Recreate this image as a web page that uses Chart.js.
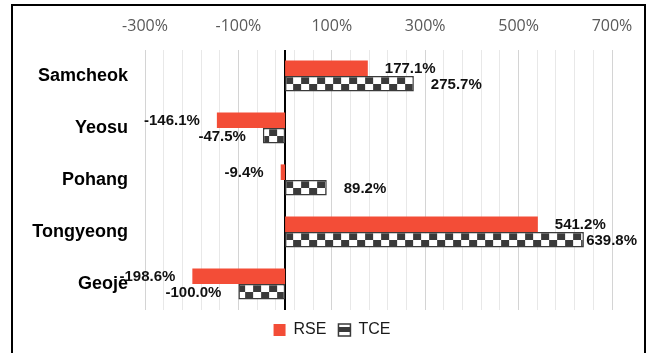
<!DOCTYPE html>
<html>
<head>
<meta charset="utf-8">
<script src="https://cdn.jsdelivr.net/npm/chart.js@4.4.1/dist/chart.umd.min.js"></script>
<style>
  html, body { margin: 0; padding: 0; background: #fff; }
  canvas { display: block; }
</style>
</head>
<body>
<canvas id="c" width="649" height="353"></canvas>
<script>
// ---- data ----
const categories = ['Samcheok', 'Yeosu', 'Pohang', 'Tongyeong', 'Geoje'];
const rseValues = [177.1, -146.1, -9.4, 541.2, -198.6];
const tceValues = [275.7, -47.5, 89.2, 639.8, -100.0];
const seriesNames = ['RSE', 'TCE'];
const axisMin = -300;
const axisMax = 700;
const majorStep = 200;
const minorStep = 40;

// ---- styles ----
const RED = '#F34D37';
const DARK = '#3a3a3a';

// checker tile for TCE bars
const tile = document.createElement('canvas');
tile.width = 16; tile.height = 16;
(function () {
  const g = tile.getContext('2d');
  g.fillStyle = '#ffffff'; g.fillRect(0, 0, 16, 16);
  g.fillStyle = DARK; g.fillRect(0, 0, 8, 8); g.fillRect(8, 8, 8, 8);
})();

function tceFill(ctx) {
  const chart = ctx.chart;
  const xs = chart.scales.x, ys = chart.scales.y;
  if (!xs || !ys || ctx.dataIndex === undefined) return DARK;
  const p = chart.ctx.createPattern(tile, 'repeat');
  p.setTransform(new DOMMatrix([1, 0, 0, 1, xs.getPixelForValue(0), ys.getPixelForValue(ctx.dataIndex)]));
  return p;
}

// data label plugin
const dataLabels = {
  id: 'dataLabels',
  afterDatasetsDraw(chart) {
    const c = chart.ctx;
    c.save();
    c.font = 'bold 15px "Liberation Sans", Arial, sans-serif';
    c.fillStyle = '#111';
    c.textBaseline = 'middle';
    chart.data.datasets.forEach((ds, di) => {
      const meta = chart.getDatasetMeta(di);
      meta.data.forEach((el, i) => {
        const v = ds.data[i];
        const t = v.toFixed(1) + '%';
        const w = c.measureText(t).width;
        let x;
        if (v >= 0) {
          x = Math.min(el.x + 17, 637 - w);
          c.textAlign = 'left';
        } else {
          x = el.x - 17;
          c.textAlign = 'right';
        }
        c.fillText(t, x, el.y + 1);
      });
    });
    c.restore();
  }
};

// frame + legend shift plugin
const frame = {
  id: 'frame',
  afterLayout(chart) {
    if (chart.legend) { chart.legend.left += 26; chart.legend.right += 26; }
  },
  beforeDraw(chart) {
    const c = chart.ctx;
    c.save();
    c.fillStyle = '#fff';
    c.fillRect(0, 0, chart.width, chart.height);
    c.restore();
  },
  afterDraw(chart) {
    const c = chart.ctx;
    c.save();
    c.strokeStyle = '#000';
    c.lineWidth = 2;
    c.strokeRect(12, 5, 633, 400);
    c.restore();
  }
};

function gridTicks() {
  const arr = [];
  for (let v = axisMin; v <= axisMax + 1e-9; v += minorStep) arr.push({ value: v });
  return arr;
}
function isMajor(v) { return Math.abs(((v - axisMin) % majorStep)) < 1e-6; }

new Chart(document.getElementById('c'), {
  type: 'bar',
  data: {
    labels: categories,
    datasets: [
      {
        label: seriesNames[0],
        data: rseValues,
        backgroundColor: RED,
        borderWidth: 0,
        categoryPercentage: 0.6,
        barPercentage: 1.0
      },
      {
        label: seriesNames[1],
        data: tceValues,
        backgroundColor: tceFill,
        borderColor: DARK,
        borderWidth: 1.5,
        borderSkipped: false,
        categoryPercentage: 0.6,
        barPercentage: 1.0
      }
    ]
  },
  options: {
    indexAxis: 'y',
    responsive: false,
    animation: false,
    devicePixelRatio: 1,
    layout: { padding: { left: 0, right: 37, top: 0, bottom: 5 } },
    scales: {
      x: {
        type: 'linear',
        position: 'top',
        min: axisMin,
        max: axisMax,
        afterBuildTicks: (s) => { s.ticks = gridTicks(); },
        afterFit: (s) => { s.height = 50; },
        border: { display: false },
        grid: {
          drawTicks: false,
          color: (ctx) => isMajor(ctx.tick.value) ? '#d4d4d4' : '#e8e8e8',
          lineWidth: 1
        },
        ticks: {
          autoSkip: false,
          maxRotation: 0,
          padding: 14,
          color: '#595959',
          font: { family: '"Open Sans", "Liberation Sans", sans-serif', size: 16 },
          callback: (v) => isMajor(v) ? v + '%' : ''
        }
      },
      x0: {
        type: 'linear',
        position: 'top',
        min: axisMin,
        max: axisMax,
        z: 1,
        afterBuildTicks: (s) => { s.ticks = [{ value: 0 }]; },
        afterFit: (s) => { s.height = 0; },
        border: { display: false },
        grid: { drawTicks: false, color: '#000', lineWidth: 2 },
        ticks: { display: false }
      },
      y: {
        afterFit: (s) => { s.width = 145; },
        border: { display: false },
        grid: { display: false, drawTicks: false },
        ticks: {
          padding: 17,
          color: '#000',
          font: { family: '"Liberation Sans", Arial, sans-serif', size: 18, weight: 'bold' }
        }
      }
    },
    plugins: {
      tooltip: { enabled: false },
      legend: {
        position: 'bottom',
        labels: {
          boxWidth: 12,
          boxHeight: 12,
          padding: 12,
          color: '#1a1a1a',
          font: { family: '"Liberation Sans", Arial, sans-serif', size: 16 },
          generateLabels: (chart) => {
            const items = Chart.defaults.plugins.legend.labels.generateLabels(chart);
            const g = chart.ctx.createLinearGradient(0, 322, 0, 334);
            g.addColorStop(0, '#ffffff');
            g.addColorStop(0.45, '#ffffff');
            g.addColorStop(0.45, DARK);
            g.addColorStop(0.8, DARK);
            g.addColorStop(0.8, '#ffffff');
            g.addColorStop(1, '#ffffff');
            items.forEach((it, i) => {
              if (i === 0) { it.fillStyle = RED; it.lineWidth = 0; it.strokeStyle = RED; }
              else { it.fillStyle = g; it.strokeStyle = DARK; it.lineWidth = 1.5; }
            });
            return items;
          }
        }
      }
    }
  },
  plugins: [frame, dataLabels]
});
</script>
</body>
</html>
